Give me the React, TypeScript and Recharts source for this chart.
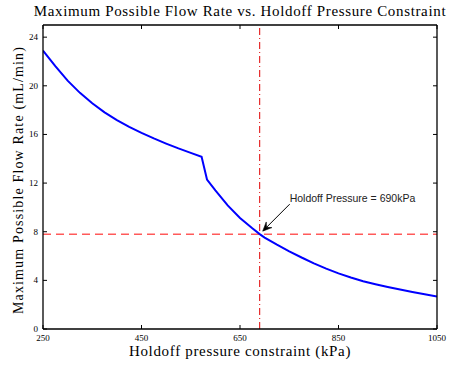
import React from 'react';
import { LineChart, Line, XAxis, YAxis, ReferenceLine, ReferenceDot } from 'recharts';

const pressures = [250, 275, 300, 325, 350, 375, 400, 425, 450, 475, 500, 525, 550, 572, 583, 600, 625, 650, 675, 690, 700, 725, 750, 775, 800, 825, 850, 875, 900, 925, 950, 975, 1000, 1025, 1050];
const flowRates = [22.9, 21.62, 20.42, 19.42, 18.56, 17.82, 17.18, 16.62, 16.13, 15.67, 15.25, 14.85, 14.48, 14.16, 12.29, 11.4, 10.17, 9.13, 8.28, 7.8, 7.52, 6.93, 6.39, 5.88, 5.4, 4.96, 4.57, 4.23, 3.93, 3.68, 3.45, 3.24, 3.04, 2.86, 2.68];
const xTicks = [250, 450, 650, 850, 1050];
const yTicks = [0, 4, 8, 12, 16, 20, 24];
const holdoffPressure = 690;
const holdoffFlow = 7.8;
const annotationText = 'Holdoff Pressure = 690kPa';
const titleText = 'Maximum Possible Flow Rate vs. Holdoff Pressure Constraint';
const xLabelText = 'Holdoff pressure constraint (kPa)';
const yLabelText = 'Maximum Possible Flow Rate (mL/min)';

const data = pressures.map((p, i) => ({ p, f: flowRates[i] }));

const SERIF = '"Liberation Serif", "DejaVu Serif", serif';

const BottomTick = (props: any) => {
  const { x, y, payload } = props;
  return (
    <g>
      <line x1={x} x2={x} y1={y} y2={y - 4} stroke="#000" strokeWidth={1} />
      <text x={x} y={y + 12} textAnchor="middle" fontFamily={SERIF} fontSize={9} fill="#000">{payload.value}</text>
    </g>
  );
};
const TopTick = (props: any) => {
  const { x, y } = props;
  return <line x1={x} x2={x} y1={y} y2={y + 4} stroke="#000" strokeWidth={1} />;
};
const LeftTick = (props: any) => {
  const { x, y, payload } = props;
  return (
    <g>
      <line x1={x} x2={x + 4} y1={y} y2={y} stroke="#000" strokeWidth={1} />
      <text x={x - 5} y={y + 3} textAnchor="end" fontFamily={SERIF} fontSize={9} fill="#000">{payload.value}</text>
    </g>
  );
};
const RightTick = (props: any) => {
  const { x, y } = props;
  return <line x1={x} x2={x - 4} y1={y} y2={y} stroke="#000" strokeWidth={1} />;
};

const Annotation = (props: any) => {
  const { cx, cy } = props;
  const sx = cx + 30;
  const sy = cy - 30;
  const ex = cx + 3;
  const ey = cy - 3;
  const ang = Math.atan2(ey - sy, ex - sx);
  const L = 9;
  const W = 4;
  const bx = ex - L * Math.cos(ang);
  const by = ey - L * Math.sin(ang);
  const px = -Math.sin(ang) * W;
  const py = Math.cos(ang) * W;
  const mx = ex - 0.6 * L * Math.cos(ang);
  const my = ey - 0.6 * L * Math.sin(ang);
  return (
    <g>
      <line x1={sx} y1={sy} x2={mx} y2={my} stroke="#000" strokeWidth={1} />
      <path d={`M${ex},${ey} L${bx + px},${by + py} L${mx},${my} L${bx - px},${by - py} Z`} fill="#000" stroke="#000" strokeWidth={0.6} />
      <text x={sx} y={sy - 2} fontFamily='"Liberation Sans", Arial, sans-serif' fontSize={10.5} fill="#222">{annotationText}</text>
    </g>
  );
};

export default function App() {
  return (
    <div style={{ position: 'absolute', left: 0, top: 0, width: 449, height: 367, background: '#fff' }}>
      <LineChart width={449} height={367} data={data} margin={{ top: 24, right: 11, bottom: 18, left: 13 }}>
        <XAxis dataKey="p" type="number" domain={[250, 1050]} ticks={xTicks} height={20} tickSize={0} tickMargin={0} tickLine={false}
          axisLine={{ stroke: '#000', strokeWidth: 1.3 }} tick={<BottomTick />} interval={0} allowDataOverflow />
        <XAxis xAxisId="top" orientation="top" dataKey="p" type="number" domain={[250, 1050]} ticks={xTicks} height={1} tickSize={0} tickMargin={0} tickLine={false}
          axisLine={{ stroke: '#000', strokeWidth: 1.3 }} tick={<TopTick />} interval={0} allowDataOverflow />
        <YAxis type="number" domain={[0, 25]} ticks={yTicks} width={30} tickSize={0} tickMargin={0} tickLine={false}
          axisLine={{ stroke: '#000', strokeWidth: 1.3 }} tick={<LeftTick />} interval={0} allowDataOverflow />
        <YAxis yAxisId="right" orientation="right" type="number" domain={[0, 25]} ticks={yTicks} width={1} tickSize={0} tickMargin={0} tickLine={false}
          axisLine={{ stroke: '#000', strokeWidth: 1.3 }} tick={<RightTick />} interval={0} allowDataOverflow />
        <ReferenceLine y={holdoffFlow} stroke="#ff5a5a" strokeWidth={1.5} strokeDasharray="8 5" />
        <ReferenceLine x={holdoffPressure} stroke="#e00000" strokeWidth={1} strokeDasharray="7 3 1 3" />
        <Line type="linear" dataKey="f" stroke="#0000ff" strokeWidth={2} dot={false} isAnimationActive={false} />
        <ReferenceDot x={holdoffPressure} y={holdoffFlow} r={0} shape={<Annotation />} />
      </LineChart>
      <div style={{ position: 'absolute', left: 0, width: 480, top: 3, textAlign: 'center', fontFamily: SERIF, fontSize: 15, letterSpacing: '0.65px', whiteSpace: 'nowrap', color: '#000' }}>{titleText}</div>
      <div style={{ position: 'absolute', left: 0, width: 480, top: 343, textAlign: 'center', fontFamily: SERIF, fontSize: 15, letterSpacing: '0.67px', whiteSpace: 'nowrap', color: '#000' }}>{xLabelText}</div>
      <div style={{ position: 'absolute', left: 19, top: 180, width: 0, height: 0 }}>
        <div style={{ position: 'absolute', left: -200, top: -10, width: 400, textAlign: 'center', transform: 'rotate(-90deg)', fontFamily: SERIF, fontSize: 14, letterSpacing: '1.15px', whiteSpace: 'nowrap', color: '#000', lineHeight: '20px' }}>{yLabelText}</div>
      </div>
    </div>
  );
}
